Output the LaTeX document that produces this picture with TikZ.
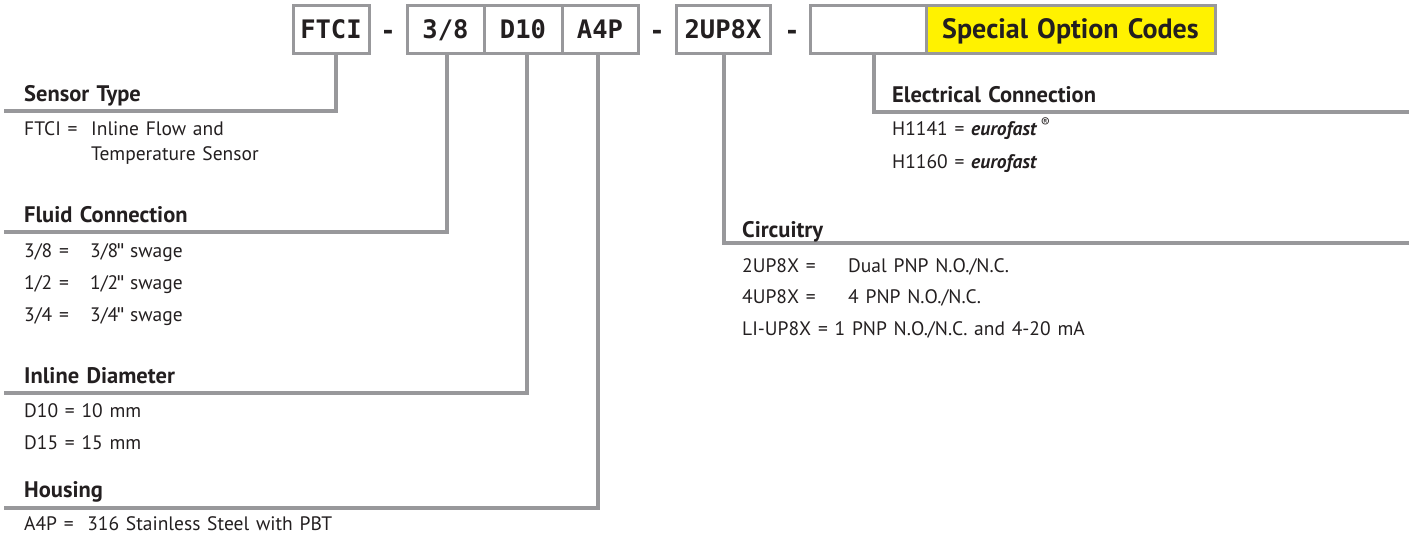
\documentclass[tikz,border=0pt]{standalone}
\usepackage{fontspec}
\setmainfont[WordSpace=1.3]{PT Sans}
\newfontfamily\codefont{DejaVu Sans Mono}
\newfontfamily\quotefont[Ligatures=ResetAll]{DejaVu Sans Mono}
\usepackage{xcolor}
\usetikzlibrary{positioning}
\definecolor{leadgray}{HTML}{98989B}
\definecolor{txtgray}{HTML}{231F20}
\definecolor{optyellow}{HTML}{FFF200}
\tikzset{
  codebox/.style={draw=leadgray, line width=3pt, fill=white, outer sep=0pt,
    minimum height=48pt, inner sep=0pt, text=txtgray,
    text height=18.5pt, text depth=0pt,
    font=\codefont\bfseries\fontsize{25.5}{25.5}\selectfont},
  dashmark/.style={anchor=base, inner sep=0pt, text=txtgray,
    font=\codefont\bfseries\fontsize{25.5}{25.5}\selectfont},
  lead/.style={draw=leadgray, line width=3.5pt},
  head/.style={anchor=base west, inner sep=0pt, text=txtgray,
    font=\bfseries\fontsize{22.5}{22.5}\selectfont},
  entry/.style={anchor=base west, inner sep=0pt, text=txtgray,
    font=\fontsize{19.5}{19.5}\selectfont},
}
\newcommand{\inch}{\kern-3.5pt{\quotefont\fontsize{19}{19}\selectfont\char34}\kern-3pt}
\begin{document}
\begin{tikzpicture}[x=1pt,y=-1pt]
    \useasboundingbox (0,0) rectangle (1409,538);
    % Part number boxes
    \node[codebox, minimum width=76pt] (ftci) at (331,29) {FTCI};
    \node[dashmark] (d1) at (388,39) {-};
    \node[codebox, minimum width=77pt] (size) at (445.5,29) {3/8};
    \node[codebox, minimum width=78pt] (dia) at (523,29) {D10};
    \node[codebox, minimum width=76pt] (hous) at (600,29) {A4P};
    \node[dashmark] (d2) at (657,39) {-};
    \node[codebox, minimum width=94pt] (circ) at (723,29) {2UP8X};
    \node[dashmark] (d3) at (792,39) {-};
    \node[codebox, minimum width=116pt] (elec) at (868,29) {};
    \node[codebox, minimum width=289pt, fill=optyellow,
      font=\bfseries\fontsize{28}{28}\selectfont] (spec) at (1070.5,29)
      {Special Option Codes};

    % Lead lines
    \coordinate (stype) at (4,111);
    \coordinate (fluid) at (4,232);
    \coordinate (inl) at (4,393);
    \coordinate (hsg) at (4,508);
    \coordinate (econ) at (1409,112);
    \coordinate (crty) at (1409,243);
    \draw[lead] ([xshift=5pt]ftci.south) |- (stype);
    \draw[lead] ([xshift=1.5pt]size.south) |- (fluid);
    \draw[lead] ([xshift=4pt]dia.south) |- (inl);
    \draw[lead] ([xshift=-2pt]hous.south) |- (hsg);
    \draw[lead] ([xshift=6pt]elec.south) |- (econ);
    \draw[lead] ([xshift=1pt]circ.south) |- (crty);

    % Sensor type
    \node[head] (h1) at (24,101) {Sensor Type};
    \node[entry] (s1) at (24,135) {FTCI =};
    \node[entry] (s1v) at (91,135) {Inline Flow and};
    \node[entry] (s2v) at (91,160) {Temperature Sensor};

    % Fluid connection
    \node[head] (h2) at (24,222) {Fluid Connection};
    \node[entry] (f1) at (24,257) {3/8 =};
    \node[entry] (f1v) at (90,257) {3/8\inch\ swage};
    \node[entry] (f2) at (24,289) {1/2 =};
    \node[entry] (f2v) at (90,289) {1/2\inch\ swage};
    \node[entry] (f3) at (24,321) {3/4 =};
    \node[entry] (f3v) at (90,321) {3/4\inch\ swage};

    % Inline diameter
    \node[head] (h3) at (24,383) {Inline Diameter};
    \node[entry] (i1) at (24,417) {D10 = 10 mm};
    \node[entry] (i2) at (24,449) {D15 = 15 mm};

    % Housing
    \node[head] (h4) at (24,497) {Housing};
    \node[entry] (a1) at (24,530) {A4P = \ 316 Stainless Steel with PBT};

    % Electrical connection
    \node[head] (h5) at (892,102) {Electrical Connection};
    \node[entry] (e1) at (892,135)
      {H1141 = \textbf{\textit{eurofast}}\,\textsuperscript{\textregistered}};
    \node[entry] (e2) at (892,168) {H1160 = \textbf{\textit{eurofast}}};

    % Circuitry
    \node[head] (h6) at (742,237) {Circuitry};
    \node[entry] (c1) at (742,272) {2UP8X =};
    \node[entry] (c1v) at (848,272) {Dual PNP N.O./N.C.};
    \node[entry] (c2) at (742,303) {4UP8X =};
    \node[entry] (c2v) at (848,303) {4 PNP N.O./N.C.};
    \node[entry] (c3) at (742,335) {LI-UP8X = 1 PNP N.O./N.C. and 4-20 mA};
  \end{tikzpicture}
\end{document}
